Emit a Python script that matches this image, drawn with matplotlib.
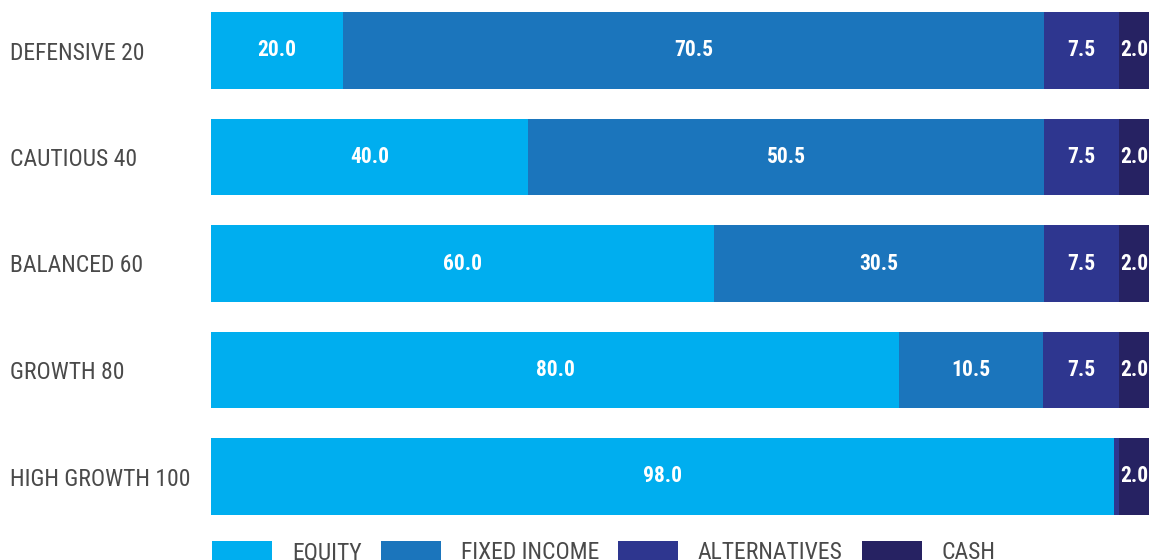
import matplotlib
matplotlib.use("Agg")
import matplotlib.pyplot as plt
from matplotlib import font_manager
from matplotlib.patches import Patch

# ---- data ----
categories = ["DEFENSIVE 20", "CAUTIOUS 40", "BALANCED 60", "GROWTH 80", "HIGH GROWTH 100"]
series_names = ["EQUITY", "FIXED INCOME", "ALTERNATIVES", "CASH"]

# printed values (labels on the bars)
equity_vals = [20.0, 40.0, 60.0, 80.0, 98.0]
fixed_vals = [70.5, 50.5, 30.5, 10.5, 0.0]
alt_vals = [7.5, 7.5, 7.5, 7.5, 0.0]
cash_vals = [2.0, 2.0, 2.0, 2.0, 2.0]

# drawn bar lengths (chart is cropped on the right)
equity_len = [13.2, 31.7, 50.3, 68.8, 90.3]
fixed_len = [70.1, 51.6, 33.0, 14.4, 0.0]
alt_len = [7.5, 7.5, 7.5, 7.6, 0.5]
cash_len = [3.5, 3.5, 3.5, 3.5, 3.5]

colors = ["#00AEEF", "#1B75BC", "#2E368F", "#262262"]
text_gray = "#4A4A4A"

names = {f.name for f in font_manager.fontManager.ttflist}
cond = None
for cand in ["Roboto Condensed", "Liberation Sans Narrow", "Open Sans Condensed", "Lato"]:
    if cand in names:
        cond = cand
        break
if cond is None:
    cond = "Roboto"
bold_font = "Roboto Condensed" if "Roboto Condensed" in names else "Roboto"

W, H = 1149, 560
fig = plt.figure(figsize=(W / 100, H / 100), dpi=100)
ax = fig.add_axes([211 / W, 1 - 529.75 / H, (W - 211) / W, 532.5 / H])

y = list(range(len(categories)))
lens = [equity_len, fixed_len, alt_len, cash_len]
vals = [equity_vals, fixed_vals, alt_vals, cash_vals]
left = [0.0] * len(categories)
for name, ln, vv, c in zip(series_names, lens, vals, colors):
    bars = ax.barh(y, ln, left=left, height=0.72, color=c, edgecolor="none", label=name)
    labs = [f"{v:.1f}" if v > 0 else "" for v in vv]
    ax.bar_label(bars, labels=labs, label_type="center", color="white",
                 fontsize=15.5, fontweight="bold", fontfamily=bold_font)
    left = [a + b for a, b in zip(left, ln)]

ax.set_ylim(4.5, -0.5)
ax.set_xlim(0, 93.8)
ax.set_yticks(y)
ax.set_yticklabels(categories, fontsize=17, fontfamily=cond, color=text_gray)
ax.tick_params(axis="y", length=0, pad=201 * 72 / 100)
for t in ax.get_yticklabels():
    t.set_ha("left")
ax.set_xticks([])
for s in ax.spines.values():
    s.set_visible(False)

handles = [Patch(facecolor=c, edgecolor="none") for c in colors]
leg = fig.legend(handles, series_names, loc="upper left",
                 bbox_to_anchor=(212 / W, 1 - 541 / H), ncol=4, frameon=False,
                 prop={"family": cond, "size": 17}, labelcolor=text_gray,
                 handlelength=2.54, handleheight=0.9, handletextpad=0.85,
                 columnspacing=0.8, borderpad=0, borderaxespad=0)

fig.savefig("out.png", dpi=100)
